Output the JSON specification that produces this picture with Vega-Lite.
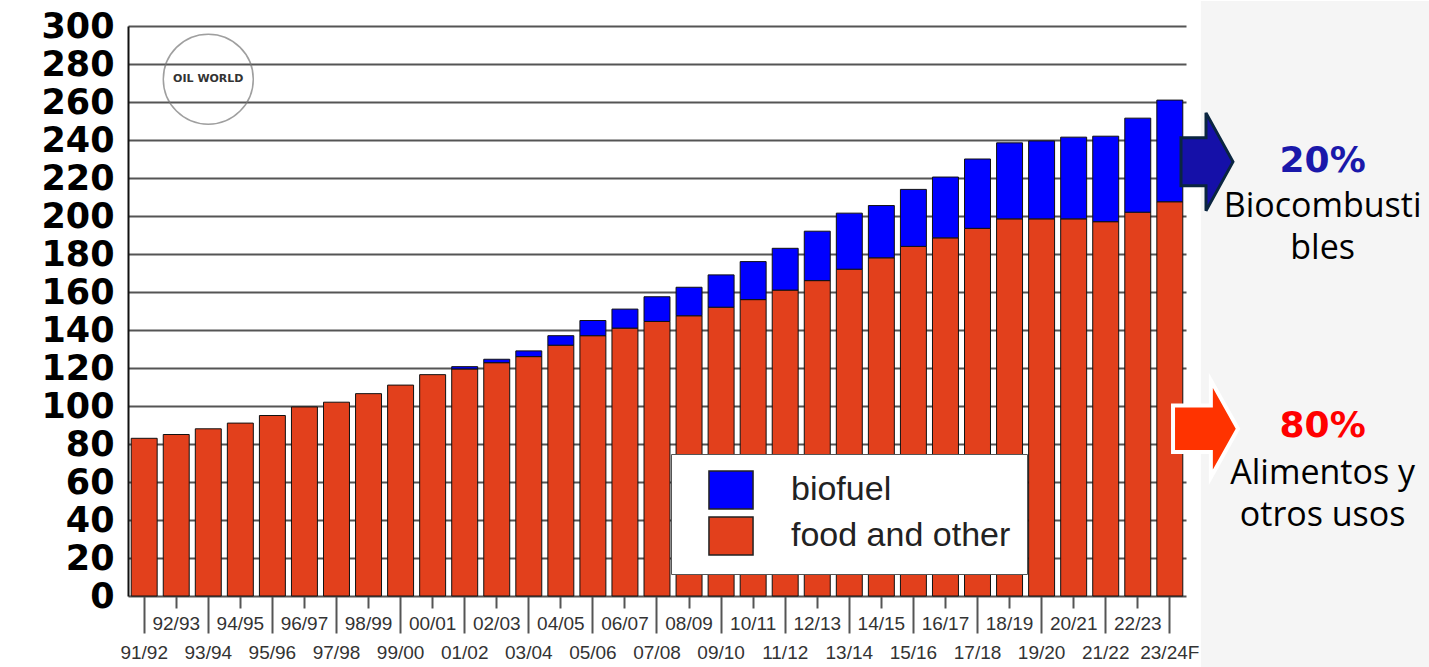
{
  "$schema": "https://vega.github.io/schema/vega-lite/v6.json",
  "background": "white",
  "padding": {"left": 40, "top": 0, "right": 0, "bottom": 0},
  "bounds": "flush",
  "spacing": 0,
  "config": {"view": {"stroke": null}},
  "datasets": {
    "use": [
      {"season": "91/92", "type": "food and other", "value": 83},
      {"season": "92/93", "type": "food and other", "value": 85},
      {"season": "93/94", "type": "food and other", "value": 88},
      {"season": "94/95", "type": "food and other", "value": 91},
      {"season": "95/96", "type": "food and other", "value": 95},
      {"season": "96/97", "type": "food and other", "value": 99.5},
      {"season": "97/98", "type": "food and other", "value": 102},
      {"season": "98/99", "type": "food and other", "value": 106.5},
      {"season": "99/00", "type": "food and other", "value": 111},
      {"season": "00/01", "type": "food and other", "value": 116.5},
      {"season": "01/02", "type": "food and other", "value": 119.5},
      {"season": "01/02", "type": "biofuel", "value": 1.2},
      {"season": "02/03", "type": "food and other", "value": 122.8},
      {"season": "02/03", "type": "biofuel", "value": 1.8},
      {"season": "03/04", "type": "food and other", "value": 126},
      {"season": "03/04", "type": "biofuel", "value": 3},
      {"season": "04/05", "type": "food and other", "value": 132},
      {"season": "04/05", "type": "biofuel", "value": 5},
      {"season": "05/06", "type": "food and other", "value": 137},
      {"season": "05/06", "type": "biofuel", "value": 8},
      {"season": "06/07", "type": "food and other", "value": 141},
      {"season": "06/07", "type": "biofuel", "value": 10},
      {"season": "07/08", "type": "food and other", "value": 144.5},
      {"season": "07/08", "type": "biofuel", "value": 13},
      {"season": "08/09", "type": "food and other", "value": 147.5},
      {"season": "08/09", "type": "biofuel", "value": 15},
      {"season": "09/10", "type": "food and other", "value": 152},
      {"season": "09/10", "type": "biofuel", "value": 17},
      {"season": "10/11", "type": "food and other", "value": 156},
      {"season": "10/11", "type": "biofuel", "value": 20},
      {"season": "11/12", "type": "food and other", "value": 161},
      {"season": "11/12", "type": "biofuel", "value": 22},
      {"season": "12/13", "type": "food and other", "value": 166},
      {"season": "12/13", "type": "biofuel", "value": 26},
      {"season": "13/14", "type": "food and other", "value": 172},
      {"season": "13/14", "type": "biofuel", "value": 29.5},
      {"season": "14/15", "type": "food and other", "value": 178},
      {"season": "14/15", "type": "biofuel", "value": 27.5},
      {"season": "15/16", "type": "food and other", "value": 184},
      {"season": "15/16", "type": "biofuel", "value": 30},
      {"season": "16/17", "type": "food and other", "value": 188.5},
      {"season": "16/17", "type": "biofuel", "value": 32},
      {"season": "17/18", "type": "food and other", "value": 193.5},
      {"season": "17/18", "type": "biofuel", "value": 36.5},
      {"season": "18/19", "type": "food and other", "value": 198.5},
      {"season": "18/19", "type": "biofuel", "value": 40},
      {"season": "19/20", "type": "food and other", "value": 198.5},
      {"season": "19/20", "type": "biofuel", "value": 41},
      {"season": "20/21", "type": "food and other", "value": 198.5},
      {"season": "20/21", "type": "biofuel", "value": 43},
      {"season": "21/22", "type": "food and other", "value": 197},
      {"season": "21/22", "type": "biofuel", "value": 45},
      {"season": "22/23", "type": "food and other", "value": 202},
      {"season": "22/23", "type": "biofuel", "value": 49.5},
      {"season": "23/24F", "type": "food and other", "value": 207.5},
      {"season": "23/24F", "type": "biofuel", "value": 53.5}
    ],
    "logo": [{"season": "93/94", "value": 272, "label": "OIL WORLD"}],
    "bioNote": [{"text": "20%", "x": 0.56, "y": 229}],
    "foodNote": [{"text": "80%", "x": 0.56, "y": 89.5}],
    "notes": [
      {"text": "Biocombusti", "x": 0.56, "y": 205},
      {"text": "bles", "x": 0.56, "y": 182.5},
      {"text": "Alimentos y", "x": 0.56, "y": 64},
      {"text": "otros usos", "x": 0.56, "y": 42}
    ],
    "bioArrow": [{"x": 0.086, "y": 228.5}],
    "foodArrow": [{"x": 0.08, "y": 88}],
    "panel": [{"x": 0.061, "x2": 1, "y": -38, "y2": 313.2}]
  },
  "hconcat": [
    {
      "width": 1058,
      "height": 570,
      "layer": [
        {
          "data": {"name": "use"},
          "mark": {"type": "bar", "stroke": "#111", "strokeWidth": 1},
          "encoding": {
            "x": {
              "field": "season",
              "type": "nominal",
              "sort": null,
              "scale": {"paddingInner": 0.19, "paddingOuter": 0.1},
              "axis": {
                "title": null,
                "domain": false,
                "labelAngle": 0,
                "labelOverlap": false,
                "labelFont": "Liberation Sans",
                "labelFontSize": 19,
                "labelColor": "#333",
                "labelBaseline": "top",
                "labelLineHeight": 29,
                "labelPadding": -19,
                "labelExpr": "round(datum.index*32) % 2 == 1 ? datum.label : ['', datum.label]",
                "ticks": true,
                "tickSize": 37,
                "tickColor": "#555",
                "tickWidth": 2,
                "tickDash": {"condition": {"test": "round(datum.index*32) % 2 == 1", "value": [12, 60]}, "value": []}
              }
            },
            "y": {
              "field": "value",
              "type": "quantitative",
              "stack": "zero",
              "scale": {"domain": [0, 300], "nice": false},
              "axis": {
                "title": null,
                "values": [0, 20, 40, 60, 80, 100, 120, 140, 160, 180, 200, 220, 240, 260, 280, 300],
                "tickCount": 40,
                "labelOverlap": false,
                "grid": true,
                "gridColor": "#555",
                "gridWidth": 2,
                "ticks": false,
                "domain": true,
                "domainColor": "#111",
                "domainWidth": 2,
                "labelFont": "DejaVu Sans",
                "labelFontWeight": "bold",
                "labelFontSize": 35,
                "labelColor": "#000",
                "labelPadding": 14
              }
            },
            "color": {
              "field": "type",
              "type": "nominal",
              "scale": {"domain": ["biofuel", "food and other"], "range": ["#0000ff", "#e2401c"]},
              "legend": {
                "title": null,
                "orient": "none",
                "legendX": 543,
                "legendY": 428,
                "symbolType": "M-1.16,-1L1.16,-1L1.16,1L-1.16,1Z",
                "symbolSize": 1444,
                "symbolStrokeColor": "#222",
                "symbolStrokeWidth": 1.5,
                "symbolOpacity": 1,
                "symbolOffset": 24,
                "labelFont": "Liberation Sans",
                "labelFontSize": 34,
                "labelColor": "#222",
                "labelOffset": 40,
                "labelLimit": 400,
                "rowPadding": 2,
                "padding": 16,
                "strokeColor": "#555",
                "fillColor": "white"
              }
            },
            "order": {"field": "type", "sort": "descending"}
          }
        },
        {
          "data": {"name": "logo"},
          "mark": {"type": "point", "shape": "circle", "size": 8100, "stroke": "#777", "strokeWidth": 1.5, "filled": false},
          "encoding": {
            "x": {"field": "season", "type": "nominal", "sort": null},
            "y": {"field": "value", "type": "quantitative"}
          }
        },
        {
          "data": {"name": "logo"},
          "mark": {"type": "text", "font": "DejaVu Sans", "fontWeight": "bold", "fontSize": 11, "color": "#333"},
          "encoding": {
            "x": {"field": "season", "type": "nominal", "sort": null},
            "y": {"field": "value", "type": "quantitative"},
            "text": {"field": "label"}
          }
        }
      ]
    },
    {
      "width": 244,
      "height": 570,
      "layer": [
        {
          "data": {"name": "panel"},
          "mark": {"type": "rect", "color": "#f5f5f5"},
          "encoding": {
            "x": {"field": "x", "type": "quantitative", "scale": {"domain": [0, 1]}, "axis": null},
            "x2": {"field": "x2"},
            "y": {"field": "y", "type": "quantitative", "scale": {"domain": [0, 300]}, "axis": null},
            "y2": {"field": "y2"}
          }
        },
        {
          "data": {"name": "bioArrow"},
          "mark": {"type": "point", "shape": "M-0.53,-0.49L-0.02,-0.49L-0.02,-1L0.53,0L-0.02,1L-0.02,0.49L-0.53,0.49Z", "size": 9604, "filled": true, "fill": "#1510a8", "stroke": "#0a2540", "strokeWidth": 3, "opacity": 1},
          "encoding": {
            "x": {"field": "x", "type": "quantitative"},
            "y": {"field": "y", "type": "quantitative"}
          }
        },
        {
          "data": {"name": "foodArrow"},
          "mark": {"type": "point", "shape": "M-0.67,-0.48L0.11,-0.48L0.11,-1L0.67,0L0.11,1L0.11,0.48L-0.67,0.48Z", "size": 9409, "filled": true, "fill": "#ff3300", "stroke": "white", "strokeWidth": 4, "opacity": 1},
          "encoding": {
            "x": {"field": "x", "type": "quantitative"},
            "y": {"field": "y", "type": "quantitative"}
          }
        },
        {
          "data": {"name": "bioNote"},
          "mark": {"type": "text", "font": "DejaVu Sans", "fontWeight": "bold", "fontSize": 36, "color": "#1a18aa", "baseline": "middle", "align": "center"},
          "encoding": {
            "x": {"field": "x", "type": "quantitative"},
            "y": {"field": "y", "type": "quantitative"},
            "text": {"field": "text"}
          }
        },
        {
          "data": {"name": "foodNote"},
          "mark": {"type": "text", "font": "DejaVu Sans", "fontWeight": "bold", "fontSize": 36, "color": "#ff0000", "baseline": "middle", "align": "center"},
          "encoding": {
            "x": {"field": "x", "type": "quantitative"},
            "y": {"field": "y", "type": "quantitative"},
            "text": {"field": "text"}
          }
        },
        {
          "data": {"name": "notes"},
          "mark": {"type": "text", "font": "Open Sans", "fontSize": 34, "color": "#000", "baseline": "middle", "align": "center"},
          "encoding": {
            "x": {"field": "x", "type": "quantitative"},
            "y": {"field": "y", "type": "quantitative"},
            "text": {"field": "text"}
          }
        }
      ]
    }
  ]
}
